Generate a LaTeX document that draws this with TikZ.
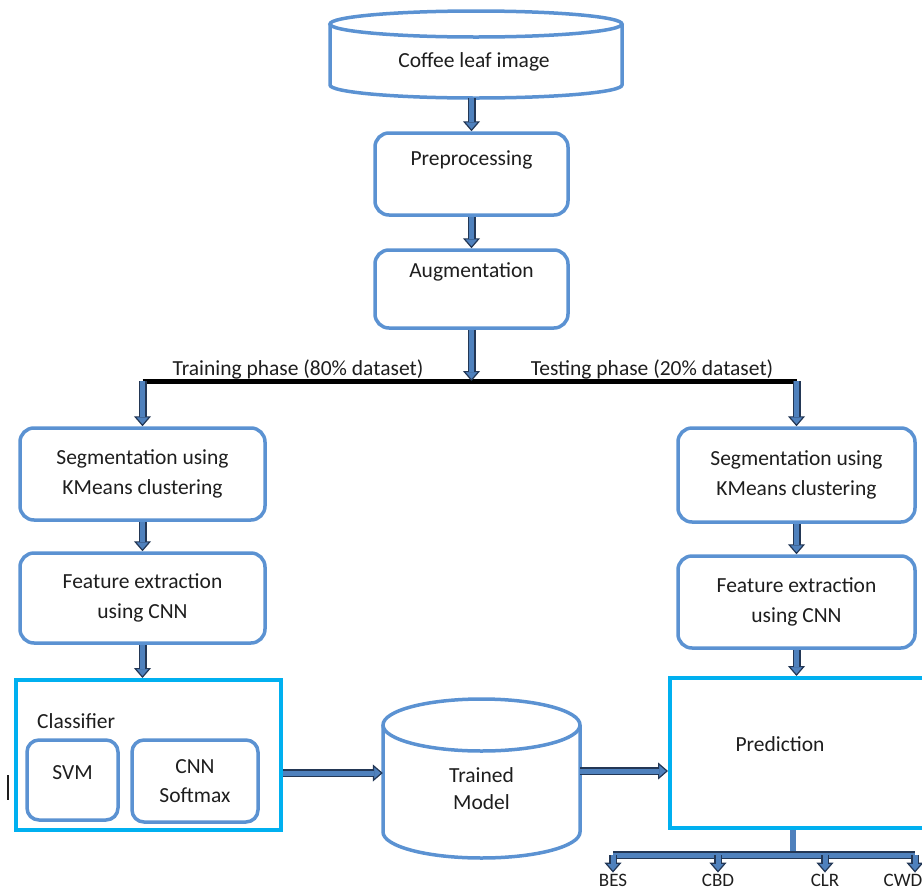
\documentclass[tikz,border=0pt]{standalone}
\usepackage{fontspec}
\setmainfont{Carlito}
\usetikzlibrary{arrows.meta,calc}
\definecolor{bblue}{RGB}{91,146,210}
\definecolor{cyanb}{RGB}{0,176,240}
\definecolor{ablue}{RGB}{79,129,189}
\definecolor{adark}{RGB}{35,55,85}
\definecolor{tcol}{RGB}{30,30,30}
\begin{document}
\begin{tikzpicture}[x=1pt,y=1pt, font=\fontsize{21.5}{25}\selectfont,
  rbox/.style={draw=bblue, line width=3.5pt, rounded corners=14pt, fill=white, inner sep=0pt},
  cbox/.style={draw=cyanb, line width=4pt, fill=white, inner sep=0pt},
  cyl/.style={draw=bblue, line width=3.5pt, fill=white},
  lbl/.style={inner sep=1pt, align=center, text=tcol},
  barrow/.style={draw=adark, line width=8pt,
    -{Triangle[length=10pt,width=17pt,fill=ablue,line width=1.2pt]},
    postaction={draw=ablue, line width=5pt, -{}, shorten >=9pt}},
  bar/.style={draw=adark, line width=8pt, postaction={draw=ablue, line width=5pt}},
  stubline/.style={draw=ablue, line width=6pt}
]
\useasboundingbox (0,0) rectangle (922,-892);

% Coffee leaf image cylinder
\draw[cyl] (330,-24) -- (330,-85) arc[start angle=180,end angle=360,x radius=146pt,y radius=13pt] -- (622,-24);
\draw[cyl] (476,-24) ellipse[x radius=146pt, y radius=13pt];
\node[minimum width=292pt, minimum height=87pt, inner sep=0pt] (coffee) at (476,-54.5) {};
\node[lbl] (coffeet) at (474,-62) {Coffee leaf image};

% Preprocessing
\node[rbox, minimum width=193pt, minimum height=82pt] (prep) at (471.5,-174) {};
\node[lbl] (prept) at (471.5,-160) {Preprocessing};

% Augmentation
\node[rbox, minimum width=193pt, minimum height=78pt] (aug) at (471.5,-289) {};
\node[lbl] (augt) at (471.5,-272) {Augmentation};

% split line
\coordinate (split) at (471.5,-381);
\coordinate (lc) at (142.5,-381);
\coordinate (rc) at (796.5,-381);
\draw[line width=5pt, black] (lc) -- (rc);
\node[lbl] (trainlbl) at (298,-369) {Training phase (80\% dataset)};
\node[lbl] (testlbl) at (652,-369) {Testing phase (20\% dataset)};

% Left branch
\node[rbox, minimum width=245pt, minimum height=92pt, align=center, text=tcol] (segL) at (142.5,-474) {Segmentation using\\[5pt]KMeans clustering};
\node[rbox, minimum width=245pt, minimum height=90pt, align=center, text=tcol] (featL) at (142.5,-598) {Feature extraction\\[5pt]using CNN};
\node[cbox, minimum width=265pt, minimum height=150pt] (cls) at (148.5,-755) {};
\node[lbl, anchor=west] (clst) at (36,-721) {Classifier};
\node[rbox, rounded corners=12pt, minimum width=91pt, minimum height=80pt] (svm) at (72.5,-780) {};
\node[lbl] (svmt) at (72.5,-773) {SVM};
\node[rbox, rounded corners=12pt, minimum width=126pt, minimum height=82pt, align=center, text=tcol] (cnn) at (195,-781) {CNN\\[4pt]Softmax};
\draw[line width=1.5pt, tcol] (8,-775) -- (8,-800);

% Trained model cylinder
\draw[cyl] (383,-725) -- (383,-832) arc[start angle=180,end angle=360,x radius=98.5pt,y radius=26pt] -- (580,-725);
\draw[cyl] (481.5,-725) ellipse[x radius=98.5pt, y radius=26pt];
\node[minimum width=197pt, minimum height=160pt, inner sep=0pt] (tm) at (481.5,-778) {};
\node[lbl] (tmt) at (481.5,-788.5) {Trained\\[2pt]Model};

% Right branch
\node[rbox, minimum width=237pt, minimum height=94pt, align=center, text=tcol] (segR) at (796.5,-475) {Segmentation using\\[5pt]KMeans clustering};
\node[rbox, minimum width=237pt, minimum height=92pt, align=center, text=tcol] (featR) at (796.5,-602) {Feature extraction\\[5pt]using CNN};
\node[cbox, minimum width=265pt, minimum height=150pt] (pred) at (802.5,-753) {};
\node[lbl] (predt) at (780,-744) {Prediction};

% bottom labels
\node[lbl, font=\fontsize{19}{22}\selectfont] (bes) at (613,-880) {BES};
\node[lbl, font=\fontsize{19}{22}\selectfont] (cbd) at (718,-880) {CBD};
\node[lbl, font=\fontsize{19}{22}\selectfont] (clr) at (825,-880) {CLR};
\node[lbl, font=\fontsize{19}{22}\selectfont] (cwd) at (903,-880) {CWD};
\coordinate (b1) at (613,-855);
\coordinate (b2) at (718,-855);
\coordinate (b3) at (825,-855);
\coordinate (b4) at (915,-855);

% connectors
\draw[barrow] (prep.north |- coffee.south) -- (prep.north);
\draw[barrow] (prep.south) -- (aug.north);
\draw[barrow] (aug.south) -- (split);
\draw[barrow] (lc) -- (segL.north);
\draw[barrow] (rc) -- (segR.north);
\draw[barrow] (segL.south) -- (featL.north);
\draw[barrow] (segR.south) -- (featR.north);
\draw[barrow] (featL.south) -- (featL.south |- cls.north);
\draw[barrow] (featR.south) -- (featR.south |- pred.north);
\coordinate (c1) at ([yshift=-18pt]cls.east);
\draw[barrow] (c1) -- (c1 -| tm.west);
\coordinate (c2) at ([yshift=7pt]tm.east);
\draw[barrow] (c2) -- (c2 -| pred.west);
\coordinate (stub) at ([xshift=-10pt]pred.south);
\draw[stubline] (stub) -- (stub |- b1);
\draw[bar] (b1) -- (b4);
\draw[barrow] (b1) -- (bes.north);
\draw[barrow] (b2) -- (cbd.north);
\draw[barrow] (b3) -- (clr.north);
\draw[barrow] (b4) -- (b4 |- cwd.north);
\end{tikzpicture}
\end{document}
